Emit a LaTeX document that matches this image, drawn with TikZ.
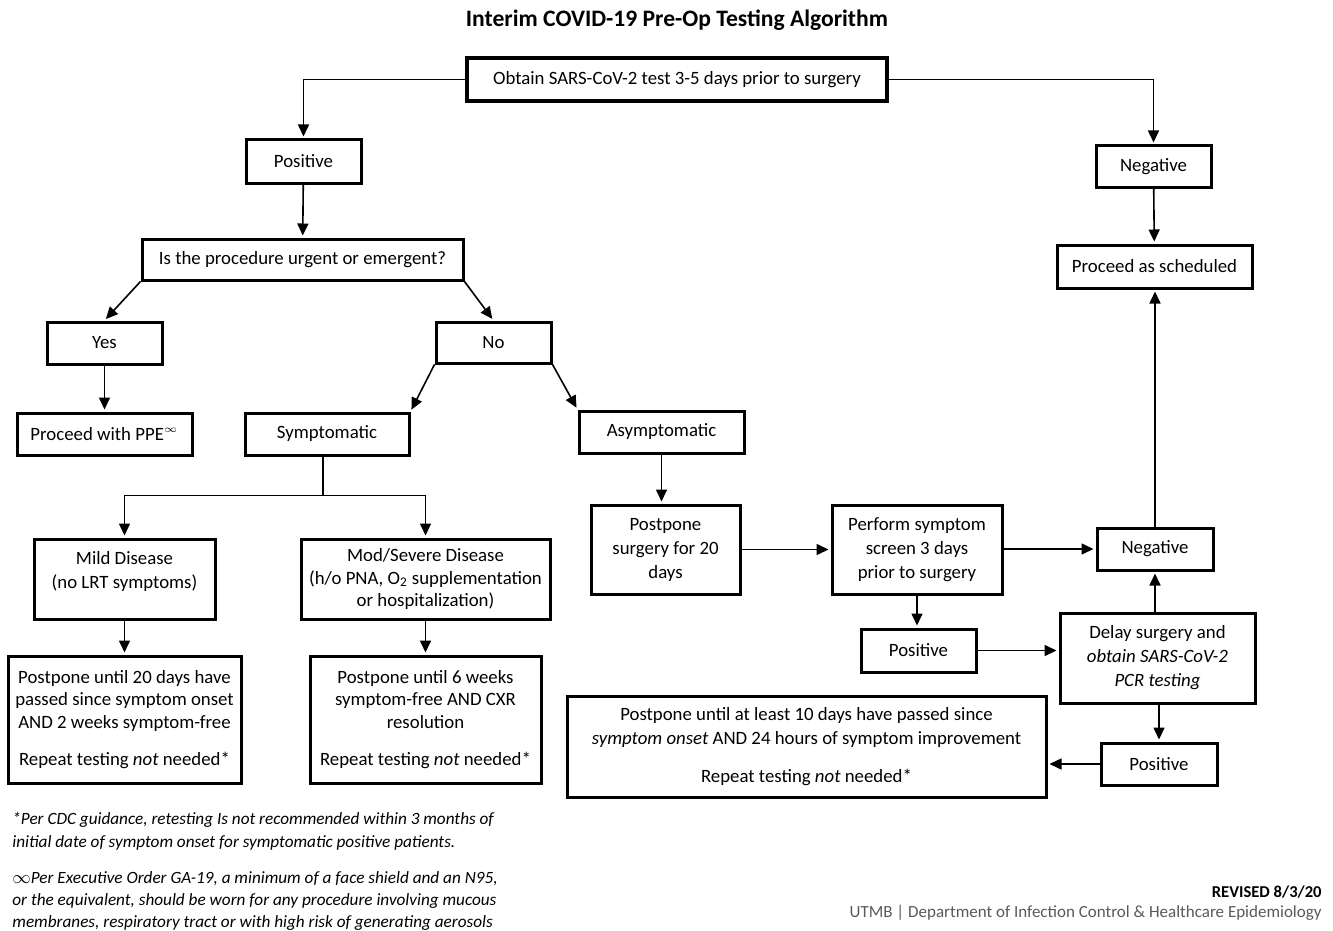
\documentclass[tikz,border=0pt]{standalone}
\usepackage{fontspec}
\setmainfont{Carlito}
\usetikzlibrary{arrows.meta,positioning,calc}

\begin{document}
\begin{tikzpicture}[x=0.5pt, y=-0.5pt,
    box/.style={draw, line width=1.5pt, inner sep=0pt, align=center,
        font=\fontsize{9.4}{12}\selectfont},
    link/.style={line width=0.8pt, -{Triangle[width=5.5pt,length=6pt]}, shorten >=1pt},
    plain/.style={line width=0.8pt}]
    \useasboundingbox (0,0) rectangle (1333,931);

    \node[font=\fontsize{11.8}{13}\selectfont\bfseries] (title) at (677,20) {Interim COVID-19 Pre-Op Testing Algorithm};

    \node[box, line width=2pt, minimum width=210pt, minimum height=21.5pt] (test) at (677,79.5) {Obtain SARS-CoV-2 test 3-5 days prior to surgery};
    \node[box, minimum width=57.5pt, minimum height=21.5pt] (pos) at (303.5,161.5) {Positive};
    \node[box, minimum width=57.5pt, minimum height=20.5pt] (neg) at (1153.5,166.5) {Negative};
    \node[box, minimum width=97.5pt, minimum height=21.5pt] (sched) at (1154.5,266.5) {Proceed as scheduled};
    \node[box, minimum width=160.5pt, minimum height=20.5pt] (urgent) at (302.5,259.5) {Is the procedure urgent or emergent?};
    \node[box, minimum width=57.5pt, minimum height=21pt] (yes) at (104.5,343) {Yes};
    \node[box, minimum width=57.5pt, minimum height=20.5pt] (no) at (493.5,342.5) {No};
    \node[box, minimum width=87.5pt, minimum height=21pt] (ppe) at (104.5,434) {Proceed with PPE${}^{\scriptscriptstyle\infty}$};
    \node[box, minimum width=82pt, minimum height=21pt] (sympt) at (327,434) {Symptomatic};
    \node[box, minimum width=82.5pt, minimum height=21pt] (asympt) at (661.5,432) {Asymptomatic};

    \node[box, minimum width=90.5pt, minimum height=40pt] (mild) at (124.5,579) {Mild Disease\\(no LRT symptoms)\\[-3pt]\mbox{}};
    \node[box, minimum width=124.5pt, minimum height=40pt, font=\fontsize{9.4}{11.3}\selectfont] (severe) at (425.5,579) {Mod/Severe Disease\\(h/o PNA, O\textsubscript{2} supplementation\\or hospitalization)};
    \node[box, minimum width=116.5pt, minimum height=63.5pt, font=\fontsize{9.4}{11.2}\selectfont] (waitmild) at (124.5,719.5) {Postpone until 20 days have\\passed since symptom onset\\AND 2 weeks symptom-free\\[7.5pt]Repeat testing \textit{not} needed*};
    \node[box, minimum width=115.5pt, minimum height=63.5pt, font=\fontsize{9.4}{11.2}\selectfont] (waitsevere) at (425.5,719.5) {Postpone until 6 weeks\\symptom-free AND CXR\\resolution\\[7.5pt]Repeat testing \textit{not} needed*};

    \node[box, minimum width=74.5pt, minimum height=44.5pt] (delay20) at (665.5,549.5) {Postpone\\surgery for 20\\days};
    \node[box, minimum width=85pt, minimum height=44.5pt] (screen) at (917,549.5) {Perform symptom\\screen 3 days\\prior to surgery};
    \node[box, minimum width=58pt, minimum height=21pt] (neg2) at (1155,549) {Negative};
    \node[box, minimum width=57.5pt, minimum height=21.5pt] (pos2) at (918.5,650.5) {Positive};
    \node[box, minimum width=97.5pt, minimum height=45pt] (pcr) at (1157.5,658) {Delay surgery and\\\textit{obtain SARS-CoV-2}\\\textit{PCR testing}};
    \node[box, minimum width=58pt, minimum height=21pt] (pos3) at (1159,764) {Positive};
    \node[box, minimum width=239.5pt, minimum height=50.5pt] (wait10) at (806.5,746.5) {Postpone until at least 10 days have passed since\\\textit{symptom onset} AND 24 hours of symptom improvement\\[7pt]Repeat testing \textit{not} needed*};

    \draw[link] (test.west) -| (pos.north);
    \draw[link] (test.east) -| (neg.north);
    \draw[link] (pos) -- (urgent);
    \draw[link] (neg) -- (sched);
    \draw[link] (urgent.south west) -- (yes.north);
    \draw[link] (urgent.south east) -- (no.north);
    \draw[link] (yes) -- (ppe);
    \draw[link] (no.south west) -- (sympt.north east);
    \draw[link] (no.south east) -- (asympt.north west);

    \coordinate (split) at ($(sympt.south)+(-4,39)$);
    \draw[plain] (sympt.south -| split) -- (split);
    \draw[link] (split) -| (mild.north);
    \draw[link] (split) -| (severe.north);
    \draw[link] (mild) -- (waitmild);
    \draw[link] (severe) -- (waitsevere);

    \draw[link] (asympt.south) -- (asympt.south |- delay20.north);
    \draw[link] (delay20) -- (screen);
    \draw[link] (screen.east |- neg2) -- (neg2);
    \draw[link] (screen.south) -- (screen.south |- pos2.north);
    \draw[link] (pos2.east) -- (pos2.east -| pcr.west);
    \draw[link] (pcr.north -| neg2) -- (neg2.south);
    \draw[link] (neg2.north) -- (neg2.north |- sched.south);
    \draw[link] (pcr.south -| pos3) -- (pos3.north);
    \draw[link] (pos3.west) -- (pos3.west -| wait10.east);

    \node[anchor=west, align=left, inner sep=0pt, font=\fontsize{8.6}{11.5}\selectfont\itshape] (cdc) at (12,831) {*Per CDC guidance, retesting Is not recommended within 3 months of\\initial date of symptom onset for symptomatic positive patients.};
    \node[anchor=west, align=left, inner sep=0pt, font=\fontsize{8.6}{11.2}\selectfont\itshape] (order) at (12,901) {$\infty$Per Executive Order GA-19, a minimum of a face shield and an N95,\\or the equivalent, should be worn for any procedure involving mucous\\membranes, respiratory tract or with high risk of generating aerosols};
    \node[anchor=east, inner sep=0pt, font=\fontsize{8.3}{10}\selectfont\bfseries] (revised) at (1322,892) {REVISED 8/3/20};
    \node[anchor=east, inner sep=0pt, text=black!65, font=\fontsize{8.5}{10}\selectfont] (dept) at (1322,913) {UTMB | Department of Infection Control \& Healthcare Epidemiology};
\end{tikzpicture}
\end{document}
